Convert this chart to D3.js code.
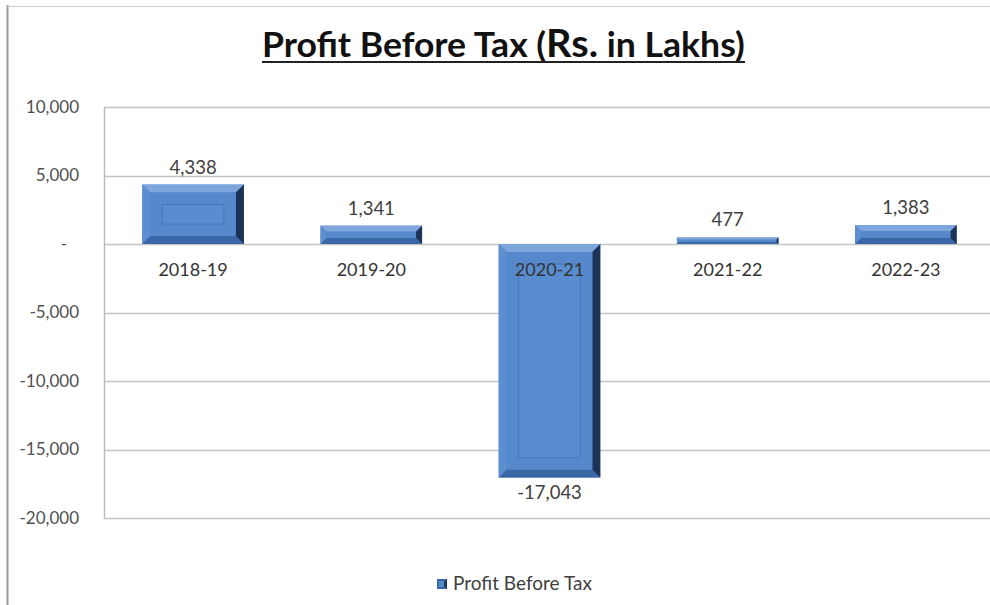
<!DOCTYPE html>
<html><head><meta charset="utf-8">
<script src="https://cdn.jsdelivr.net/npm/d3@7"></script>
<style>body{margin:0;background:#fff}svg{display:block}</style>
</head><body>
<svg id="c" width="990" height="605"></svg>
<script>
const categories = ["2018-19","2019-20","2020-21","2021-22","2022-23"];
const values = [4338, 1341, -17043, 477, 1383];
const yTicks = [10000, 5000, 0, -5000, -10000, -15000, -20000];
const seriesName = "Profit Before Tax";
const titleMain = "Profit Before Tax (";
const titleRs = "Rs.";
const titleEnd = " in Lakhs)";

(function(){
const svg = d3.select("#c");
const FONT = "Lato, 'Open Sans', sans-serif";
const fmt = d => d3.format(",")(d).replace("\u2212", "-");

// frame
svg.append("line").attr("x1",7.5).attr("x2",7.5).attr("y1",5).attr("y2",605).attr("stroke","#999").attr("stroke-width",2);
svg.append("line").attr("x1",7).attr("x2",990).attr("y1",6.5).attr("y2",6.5).attr("stroke","#ccc").attr("stroke-width",1);

const pl = 104, pr = 995, pt = 107, pb = 518;
const x = d3.scaleBand().domain(categories).range([pl, pr]).paddingInner(0.43).paddingOuter(0.215);
const y = d3.scaleLinear().domain([-20000, 10000]).range([pb, pt]);

// gridlines
svg.append("g").selectAll("line").data(yTicks).join("line")
  .attr("x1", pl).attr("x2", 990)
  .attr("y1", d => Math.round(y(d))+0.5).attr("y2", d => Math.round(y(d))+0.5)
  .attr("stroke", "#c4c4c4").attr("stroke-width", 1.5);

// y axis
const yAxis = d3.axisLeft(y).tickValues(yTicks).tickSize(0).tickPadding(25)
  .tickFormat(d => d === 0 ? "-" : fmt(d));
const ga = svg.append("g").attr("transform", `translate(${pl},0)`).call(yAxis);
ga.select(".domain").attr("stroke","#bbb").attr("stroke-width",1.5);
ga.selectAll("text").attr("font-family", FONT).attr("font-size", 17).attr("fill", "#505050")
  .attr("dx", d => d === 0 ? -12 : 0);

// bars with bevel
const gb = svg.append("g");
categories.forEach((c, i) => {
  const v = values[i];
  const x0 = x(c), x1 = x(c) + x.bandwidth();
  const yt = Math.min(y(v), y(0)), yb = Math.max(y(v), y(0));
  const w = x1 - x0, h = yb - yt;
  const b = Math.min(8, h / 3, w / 2);
  const g = gb.append("g");
  g.append("rect").attr("x", x0).attr("y", yt).attr("width", w).attr("height", h).attr("fill", "#4f82c2");
  g.append("polygon").attr("points", [[x0,yt],[x1,yt],[x1-b,yt+b],[x0+b,yt+b]].join(" ")).attr("fill", "#7fa6dc");
  g.append("polygon").attr("points", [[x0,yt],[x0+b,yt+b],[x0+b,yb-b],[x0,yb]].join(" ")).attr("fill", "#5b8fd2");
  g.append("polygon").attr("points", [[x0,yb],[x0+b,yb-b],[x1-b,yb-b],[x1,yb]].join(" ")).attr("fill", "#3a67a6");
  g.append("polygon").attr("points", [[x1,yt],[x1-b,yt+b],[x1-b,yb-b],[x1,yb]].join(" ")).attr("fill", "#1c3357");
  g.append("rect").attr("x", x0+b).attr("y", yt+b).attr("width", Math.max(0,w-2*b)).attr("height", Math.max(0,h-2*b)).attr("fill", "#5689cc");
  const ins = 20;
  if (h - 2*ins > 4) {
    g.append("rect").attr("x", x0+ins).attr("y", yt+ins).attr("width", w-2*ins).attr("height", h-2*ins)
      .attr("fill", "#5a8dd0").attr("stroke", "#4676b5").attr("stroke-width", 1);
  }
});

// category labels at zero line
svg.append("g").selectAll("text").data(categories).join("text")
  .attr("x", d => x(d) + x.bandwidth()/2).attr("y", y(0) + 32)
  .attr("text-anchor", "middle").attr("font-family", FONT).attr("font-size", 18).attr("fill", "#333")
  .text(d => d);

// value labels
svg.append("g").selectAll("text").data(values).join("text")
  .attr("x", (d,i) => x(categories[i]) + x.bandwidth()/2)
  .attr("y", d => d >= 0 ? y(d) - 11 : y(d) + 22)
  .attr("text-anchor", "middle").attr("font-family", FONT).attr("font-size", 18.5).attr("fill", "#404040")
  .text(d => fmt(d));

// title
const t = svg.append("text").attr("x", 0).attr("y", 0).attr("font-family", FONT).attr("font-weight", "bold")
  .attr("font-size", 35).attr("fill", "#111");
t.append("tspan").text(titleMain);
t.append("tspan").attr("font-size", 39).text(titleRs);
t.append("tspan").text(titleEnd);
const bb = t.node().getBBox();
const targetW = 483, cx = 503.5, baseY = 57;
const sx = targetW / bb.width;
t.attr("transform", `translate(${cx - targetW/2},${baseY}) scale(${sx},1) translate(${-bb.x},0)`);
svg.append("line").attr("x1", cx - targetW/2).attr("x2", cx + targetW/2).attr("y1", 62).attr("y2", 62)
  .attr("stroke", "#222").attr("stroke-width", 2);

// legend
const lg = svg.append("g");
lg.append("rect").attr("x", 437).attr("y", 579).attr("width", 10).attr("height", 10).attr("fill", "#3a67a6");
lg.append("rect").attr("x", 439).attr("y", 581).attr("width", 6).attr("height", 6).attr("fill", "#5689cc");
lg.append("polygon").attr("points","447,579 447,589 444,586 444,582").attr("fill","#1c3357");
lg.append("text").attr("x", 453).attr("y", 590).attr("font-family", FONT).attr("font-size", 19).attr("fill", "#404040").text(seriesName);
})();
</script>
</body></html>
